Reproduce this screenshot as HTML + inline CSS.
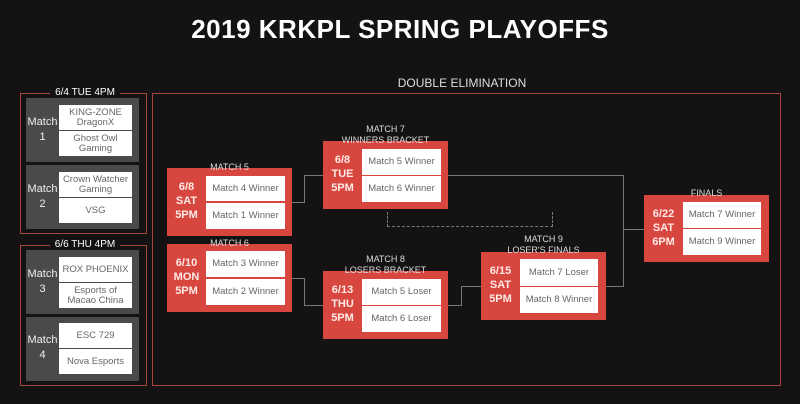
<!DOCTYPE html>
<html><head><meta charset="utf-8"><style>
body{margin:0;width:800px;height:404px;background:#141212;position:relative;overflow:hidden;font-family:"Liberation Sans",sans-serif;color:#fff}
.a{position:absolute;box-sizing:border-box}
.t{position:absolute;text-align:center;white-space:nowrap}
.ol{border:1.5px solid #a8453f}
.g{background:#4b4a4a}
.r{background:#d8473f}
.w{background:#fff;color:#666;font-size:9.5px;display:flex;align-items:center;justify-content:center;text-align:center;line-height:10px}
.lb{font-size:11px;color:#eee;line-height:15px;text-align:center;position:absolute}
.rl{font-size:11px;font-weight:bold;color:#ffe9e6;text-align:center;position:absolute}
.cap{font-size:9px;color:#ddd;line-height:11px}
.hl{position:absolute;background:#777;height:1px}
.vl{position:absolute;background:#777;width:1px}
</style></head><body>
<div class="t" style="left:0;width:800px;top:14px;font-size:26px;font-weight:bold;letter-spacing:0.5px">2019 KRKPL SPRING PLAYOFFS</div>

<div class="a ol" style="left:20px;top:93px;width:127px;height:141px"></div>
<div class="t" style="left:50px;width:70px;top:87px;font-size:10px;background:#141212">6/4 TUE 4PM</div>
<div class="a g" style="left:26px;top:98px;width:113px;height:64px"></div>
<div class="lb" style="left:26px;top:115px;width:33px">Match<br>1</div>
<div class="a w" style="left:59px;top:105px;width:73px;height:25px">KING-ZONE<br>DragonX</div>
<div class="a w" style="left:59px;top:131px;width:73px;height:25px">Ghost Owl<br>Gaming</div>
<div class="a g" style="left:26px;top:165px;width:113px;height:64px"></div>
<div class="lb" style="left:26px;top:182px;width:33px">Match<br>2</div>
<div class="a w" style="left:59px;top:172px;width:73px;height:25px">Crown Watcher<br>Gaming</div>
<div class="a w" style="left:59px;top:198px;width:73px;height:25px">VSG</div>

<div class="a ol" style="left:20px;top:245px;width:127px;height:141px"></div>
<div class="t" style="left:50px;width:70px;top:239px;font-size:10px;background:#141212">6/6 THU 4PM</div>
<div class="a g" style="left:26px;top:250px;width:113px;height:64px"></div>
<div class="lb" style="left:26px;top:267px;width:33px">Match<br>3</div>
<div class="a w" style="left:59px;top:257px;width:73px;height:25px">ROX PHOENIX</div>
<div class="a w" style="left:59px;top:283px;width:73px;height:25px">Esports of<br>Macao China</div>
<div class="a g" style="left:26px;top:317px;width:113px;height:64px"></div>
<div class="lb" style="left:26px;top:333px;width:33px">Match<br>4</div>
<div class="a w" style="left:59px;top:323px;width:73px;height:25px">ESC 729</div>
<div class="a w" style="left:59px;top:349px;width:73px;height:25px">Nova Esports</div>

<div class="a ol" style="left:152px;top:93px;width:629px;height:293px"></div>
<div class="t" style="left:362px;width:200px;top:76px;font-size:12px;color:#ddd">DOUBLE ELIMINATION</div>

<div class="hl" style="left:285px;top:202px;width:19px"></div>
<div class="vl" style="left:304px;top:175px;height:28px"></div>
<div class="hl" style="left:304px;top:175px;width:60px"></div>
<div class="hl" style="left:285px;top:278px;width:19px"></div>
<div class="vl" style="left:304px;top:278px;height:28px"></div>
<div class="hl" style="left:304px;top:305px;width:60px"></div>
<div class="hl" style="left:441px;top:175px;width:182px"></div>
<div class="vl" style="left:623px;top:175px;height:112px"></div>
<div class="hl" style="left:598px;top:286px;width:25px"></div>
<div class="hl" style="left:623px;top:229px;width:62px"></div>
<div class="hl" style="left:441px;top:305px;width:20px"></div>
<div class="vl" style="left:461px;top:286px;height:20px"></div>
<div class="hl" style="left:461px;top:286px;width:60px"></div>
<div class="a" style="left:387px;top:212px;width:166px;height:15px;border-left:1px dashed #777;border-bottom:1px dashed #777;border-right:1px dashed #777"></div>

<div class="a r" style="left:167px;top:168px;width:125px;height:68px"></div>
<div class="t cap" style="left:167px;width:125px;top:162px">MATCH 5</div>
<div class="rl" style="left:167px;top:180px;width:39px;line-height:14px">6/8<br>SAT<br>5PM</div>
<div class="a w" style="left:206px;top:176px;width:79px;height:25px">Match 4 Winner</div>
<div class="a w" style="left:206px;top:203px;width:79px;height:26px">Match 1 Winner</div>

<div class="a r" style="left:167px;top:244px;width:125px;height:68px"></div>
<div class="t cap" style="left:167px;width:125px;top:238px">MATCH 6</div>
<div class="rl" style="left:167px;top:256px;width:39px;line-height:14px">6/10<br>MON<br>5PM</div>
<div class="a w" style="left:206px;top:251px;width:79px;height:26px">Match 3 Winner</div>
<div class="a w" style="left:206px;top:279px;width:79px;height:26px">Match 2 Winner</div>

<div class="a r" style="left:323px;top:141px;width:125px;height:68px"></div>
<div class="t cap" style="left:323px;width:125px;top:124px">MATCH 7<br>WINNERS BRACKET</div>
<div class="rl" style="left:323px;top:153px;width:39px;line-height:14px">6/8<br>TUE<br>5PM</div>
<div class="a w" style="left:362px;top:149px;width:79px;height:26px">Match 5 Winner</div>
<div class="a w" style="left:362px;top:176px;width:79px;height:26px">Match 6 Winner</div>

<div class="a r" style="left:323px;top:271px;width:125px;height:68px"></div>
<div class="t cap" style="left:323px;width:125px;top:254px">MATCH 8<br>LOSERS BRACKET</div>
<div class="rl" style="left:323px;top:283px;width:39px;line-height:14px">6/13<br>THU<br>5PM</div>
<div class="a w" style="left:362px;top:279px;width:79px;height:26px">Match 5 Loser</div>
<div class="a w" style="left:362px;top:306px;width:79px;height:26px">Match 6 Loser</div>

<div class="a r" style="left:481px;top:252px;width:125px;height:68px"></div>
<div class="t cap" style="left:481px;width:125px;top:234px">MATCH 9<br>LOSER'S FINALS</div>
<div class="rl" style="left:481px;top:264px;width:39px;line-height:14px">6/15<br>SAT<br>5PM</div>
<div class="a w" style="left:520px;top:259px;width:78px;height:27px">Match 7 Loser</div>
<div class="a w" style="left:520px;top:287px;width:78px;height:26px">Match 8 Winner</div>

<div class="a r" style="left:644px;top:195px;width:125px;height:67px"></div>
<div class="t cap" style="left:644px;width:125px;top:188px">FINALS</div>
<div class="rl" style="left:644px;top:207px;width:39px;line-height:14px">6/22<br>SAT<br>6PM</div>
<div class="a w" style="left:683px;top:202px;width:78px;height:26px">Match 7 Winner</div>
<div class="a w" style="left:683px;top:229px;width:78px;height:26px">Match 9 Winner</div>
</body></html>
